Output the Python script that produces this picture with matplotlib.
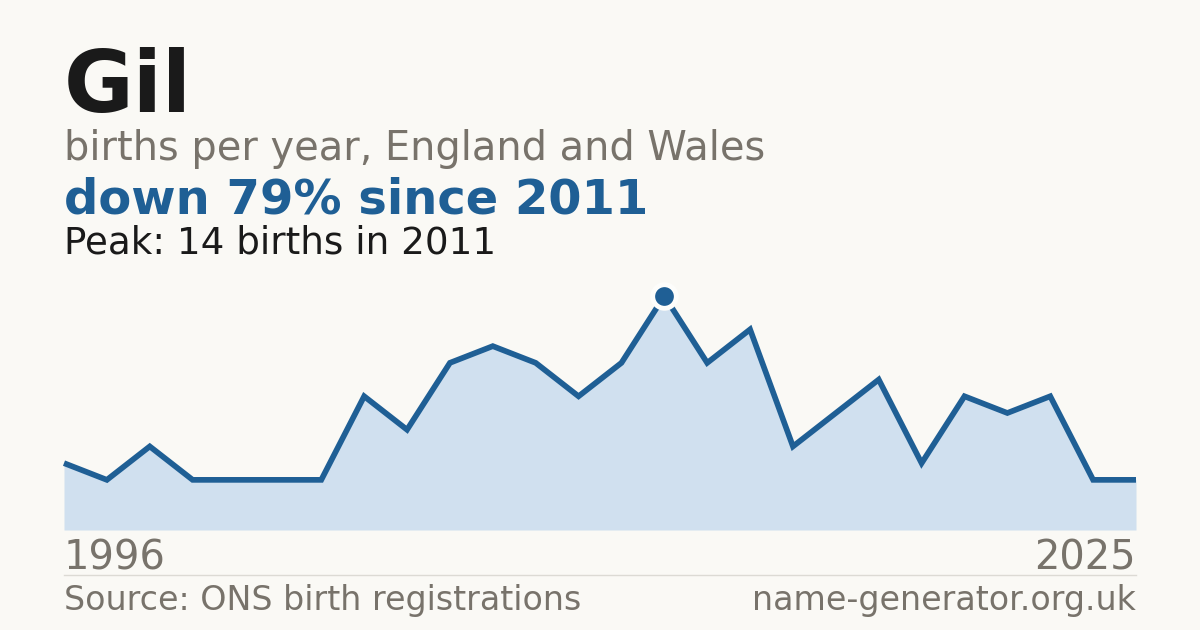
import matplotlib
matplotlib.use("Agg")
import matplotlib.pyplot as plt
import numpy as np

# Data
years = [1996, 1997, 1998, 1999, 2000, 2001, 2002, 2003, 2004, 2005, 2006, 2007, 2008,
         2010, 2011, 2012, 2013, 2014, 2015, 2016, 2018, 2019, 2020, 2022, 2024, 2025]
births = [4, 3, 5, 3, 3, 3, 3, 8, 6, 10, 11, 10, 8,
          10, 14, 10, 12, 5, 7, 9, 4, 8, 7, 8, 3, 3]

name = "Gil"
subtitle = "births per year, England and Wales"
headline = "down 79% since 2011"
peak_text = "Peak: 14 births in 2011"
source = "Source: ONS birth registrations"
site = "name-generator.org.uk"

BG = "#faf9f5"
BLUE = "#1f5f95"
FILL = "#d0e0ef"
DARK = "#1a1a1a"
GREY = "#78736b"

W, H = 1200, 630
fig = plt.figure(figsize=(12, 6.3), dpi=100, facecolor=BG)

def fx(px):
    return px / W

def fy(py):
    return 1 - py / H

x0, x1 = 64, 1136
ybase, ypeak = 530, 296
ax = fig.add_axes([fx(x0), fy(ybase), fx(x1 - x0), (ybase - ypeak) / H])
ax.set_facecolor("none")
idx = np.arange(len(births))
ax.fill_between(idx, births, 0, color=FILL, linewidth=0)
ax.plot(idx, births, color=BLUE, lw=4.1, solid_joinstyle="miter", solid_capstyle="butt", clip_on=False)
pk = int(np.argmax(births))
ax.plot([idx[pk]], [births[pk]], "o", ms=17, color=BLUE, mec="#fdfdfb", mew=3.5, clip_on=False, zorder=5)
ax.set_xlim(0, len(births) - 1)
ax.set_ylim(0, max(births))
ax.axis("off")

fs = lambda px: px * 72 / 100
fam = "DejaVu Sans"
fig.text(fx(64), fy(112), name, fontsize=fs(85), fontweight="bold", color=DARK, family=fam, va="baseline")
fig.text(fx(64), fy(160), subtitle, fontsize=fs(39.9), color=GREY, family=fam, va="baseline")
fig.text(fx(64), fy(214), headline, fontsize=fs(48), fontweight="bold", color=BLUE, family=fam, va="baseline")
fig.text(fx(64), fy(253), peak_text, fontsize=fs(37.3), color=DARK, family=fam, va="baseline")
fig.text(fx(64), fy(570), str(years[0]), fontsize=fs(40), color=GREY, family=fam, va="baseline")
fig.text(fx(1136), fy(570), str(years[-1]), fontsize=fs(40), color=GREY, family=fam, va="baseline", ha="right")
fig.add_artist(plt.Line2D([fx(64), fx(1136)], [fy(574.5), fy(574.5)], color="#dcdad4", lw=1))
fig.text(fx(64), fy(610), source, fontsize=fs(33.3), color=GREY, family=fam, va="baseline")
fig.text(fx(1136), fy(610), site, fontsize=fs(33.3), color=GREY, family=fam, va="baseline", ha="right")

fig.savefig("out.png", dpi=100, facecolor=BG)
